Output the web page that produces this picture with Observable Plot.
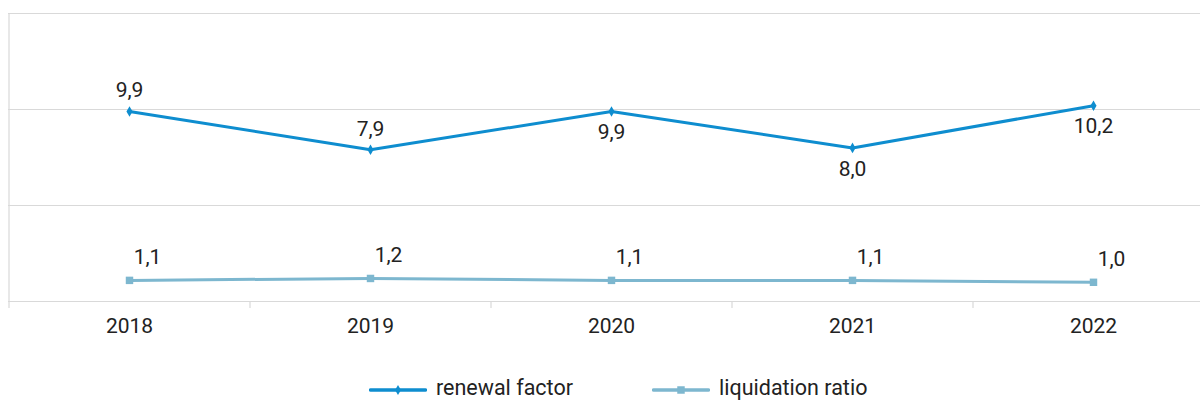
<!DOCTYPE html>
<html>
<head>
<meta charset="utf-8">
<script src="https://cdn.jsdelivr.net/npm/d3@7"></script>
<script src="https://cdn.jsdelivr.net/npm/@observablehq/plot@0.6"></script>
<style>
  html, body { margin: 0; padding: 0; background: #fff; }
  #wrap { position: relative; width: 1200px; height: 400px; font-family: Roboto, "Noto Sans", sans-serif; }
  #legend { position: absolute; top: 376px; left: 0; width: 1200px; height: 24px; }
  .item { position: absolute; top: 0; height: 24px; display: flex; align-items: center; font-size: 21.5px; line-height: 24px; color: #222; white-space: nowrap; }
  .item svg { margin-right: 9px; }
</style>
</head>
<body>
<div id="wrap">
  <div id="chart"></div>
  <div id="legend"></div>
</div>
<script>
const years = ["2018", "2019", "2020", "2021", "2022"];
const renewal = [9.9, 7.9, 9.9, 8.0, 10.2];
const liquidation = [1.1, 1.2, 1.1, 1.1, 1.0];
const renewalLabelPos = ["above", "above", "below", "below", "below"];
const seriesNames = ["renewal factor", "liquidation ratio"];
const yTicks = [0, 5, 10, 15];

const colors = { renewal: "#0e8dcf", liquidation: "#7db7cf" };
const fmt = v => v.toFixed(1).replace(".", ",");
const idx = d3.range(years.length);

const rData = idx.map(i => ({ i, v: renewal[i], pos: renewalLabelPos[i] }));
const lData = idx.map(i => ({ i, v: liquidation[i] }));
const boundaries = d3.range(-0.5, years.length, 1);

const chart = Plot.plot({
  width: 1200,
  height: 350,
  marginTop: 13,
  marginBottom: 49,
  marginLeft: 8,
  marginRight: 0,
  style: { fontFamily: "Roboto, 'Noto Sans', sans-serif", fontSize: "21px", color: "#222", background: "#fff" },
  x: { domain: [-0.5, years.length - 0.5], range: [8.5, 1213.5], axis: null },
  y: { domain: [0, 15], axis: null },
  marks: [
    Plot.ruleY(yTicks, { stroke: "#d9d9d9", strokeWidth: 1.2 }),
    Plot.ruleX([boundaries[0]], { stroke: "#d9d9d9", strokeWidth: 1.2 }),
    Plot.axisX(boundaries, { tickSize: 7, tickFormat: () => "", stroke: "#d9d9d9", strokeWidth: 1.2, label: null }),
    Plot.axisX(idx, { tickSize: 0, tickPadding: 17, tickFormat: i => years[i], fontSize: 21, fill: "#222", label: null }),
    Plot.line(lData, { x: "i", y: "v", stroke: colors.liquidation, strokeWidth: 3 }),
    Plot.dot(lData, { x: "i", y: "v", symbol: "square", r: 4.2, fill: colors.liquidation, stroke: null }),
    Plot.text(lData, { x: "i", y: "v", text: d => fmt(d.v), dx: 18, dy: -23, fontSize: 21, fill: "#222" }),
    Plot.line(rData, { x: "i", y: "v", stroke: colors.renewal, strokeWidth: 3 }),
    Plot.dot(rData, { x: "i", y: "v", symbol: "diamond", r: 3.2, fill: colors.renewal, stroke: null }),
    Plot.text(rData.filter(d => d.pos === "above"), { x: "i", y: "v", text: d => fmt(d.v), dy: -21, fontSize: 21, fill: "#222" }),
    Plot.text(rData.filter(d => d.pos === "below"), { x: "i", y: "v", text: d => fmt(d.v), dy: 21, fontSize: 21, fill: "#222" })
  ]
});
document.getElementById("chart").appendChild(chart);

// Legend
const legend = d3.select("#legend");
const legendItems = [
  { name: seriesNames[0], color: colors.renewal, symbol: d3.symbolDiamond, size: 30, left: 369 },
  { name: seriesNames[1], color: colors.liquidation, symbol: d3.symbolSquare, size: 56, left: 652 }
];
legendItems.forEach(it => {
  const div = legend.append("div").attr("class", "item").style("left", it.left + "px");
  const svg = div.append("svg").attr("width", 58).attr("height", 24);
  svg.append("line").attr("x1", 1.5).attr("x2", 56.5).attr("y1", 14).attr("y2", 14)
    .attr("stroke", it.color).attr("stroke-width", 3.5).attr("stroke-linecap", "round");
  svg.append("path").attr("d", d3.symbol(it.symbol, it.size)()).attr("transform", "translate(29,14)").attr("fill", it.color);
  div.append("span").text(it.name);
});
</script>
</body>
</html>
